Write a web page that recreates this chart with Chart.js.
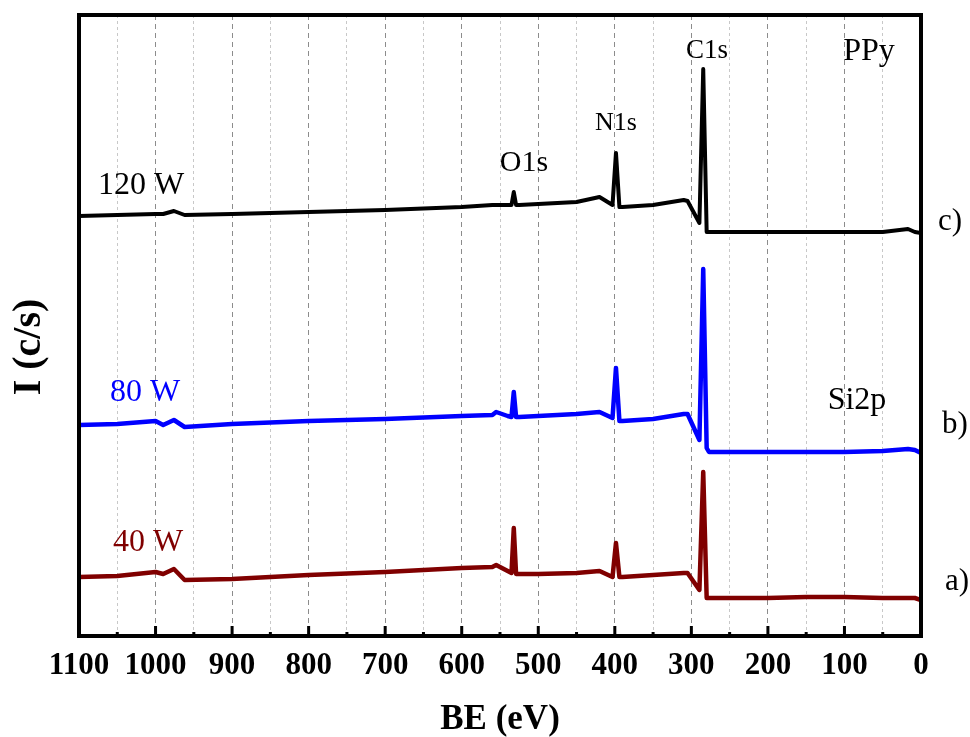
<!DOCTYPE html>
<html>
<head>
<meta charset="utf-8">
<title>XPS survey spectra - PPy</title>
<script src="https://cdn.jsdelivr.net/npm/chart.js@4.4.1/dist/chart.umd.min.js"></script>
<style>
  html, body { margin: 0; padding: 0; background: #fff; }
  canvas { display: block; }
</style>
</head>
<body>
<canvas id="xpsChart" width="970" height="737"></canvas>
<script>
// binding energy grid (eV) shared by the three spectra
const bindingEnergy = [1100, 1050, 1000, 990, 976, 962, 900, 800, 700, 600, 560, 555, 540, 535, 532, 529, 525, 500, 450, 420, 403, 398.5, 394, 390, 350, 310, 305, 289.5, 284.5, 280, 277, 250, 200, 150, 100, 50, 17, 8, 0];

// intensities, offset per spectrum (a.u.)
const counts40W = [5.9, 6.0, 6.4, 6.2, 6.7, 5.6, 5.7, 6.1, 6.4, 6.8, 6.9, 7.1, 6.5, 6.3, 10.8, 6.2, 6.2, 6.2, 6.3, 6.5, 5.9, 9.3, 5.9, 5.9, 6.1, 6.3, 6.3, 4.6, 16.4, 3.8, 3.8, 3.8, 3.8, 3.9, 3.9, 3.8, 3.8, 3.8, 3.6];
const counts80W = [21.1, 21.2, 21.5, 21.1, 21.6, 20.9, 21.2, 21.5, 21.7, 22.0, 22.1, 22.4, 22.0, 21.9, 24.4, 21.9, 21.9, 22.0, 22.2, 22.4, 21.8, 26.8, 21.5, 21.5, 21.7, 22.2, 22.2, 19.6, 36.7, 18.8, 18.4, 18.4, 18.4, 18.4, 18.4, 18.5, 18.7, 18.6, 18.3];
const counts120W = [42.0, 42.1, 42.2, 42.2, 42.5, 42.1, 42.2, 42.4, 42.6, 42.9, 43.1, 43.1, 43.1, 43.1, 44.4, 43.1, 43.1, 43.2, 43.4, 43.9, 43.1, 48.3, 42.9, 42.9, 43.1, 43.6, 43.5, 41.3, 56.7, 40.4, 40.4, 40.4, 40.4, 40.4, 40.4, 40.4, 40.7, 40.4, 40.3];

const seriesNames = ['40 W', '80 W', '120 W'];
const seriesColors = ['#800000', '#0000ff', '#000000'];

const xMin = 0, xMax = 1100, xStep = 50;
const yMin = 0, yMax = 62.1;

const serif = "'Liberation Serif', 'Times New Roman', serif";

// text drawn inside / beside the plot: [text, x, y, size, color, align]
const notes = [
  ['120 W', 98, 186, 32, '#000000', 'left'],
  ['80 W', 110, 393, 32, '#0000ff', 'left'],
  ['40 W', 113, 543, 32, '#800000', 'left'],
  ['O1s', 524, 163, 30, '#000000', 'center'],
  ['N1s', 616, 123, 26, '#000000', 'center'],
  ['C1s', 707, 51, 27, '#000000', 'center'],
  ['PPy', 869, 52, 32, '#000000', 'center'],
  ['Si2p', 857, 401, 32, '#000000', 'center'],
  ['c)', 950, 222, 31, '#000000', 'center'],
  ['b)', 955, 425, 31, '#000000', 'center'],
  ['a)', 957, 582, 31, '#000000', 'center']
];

function toPoints(ys) {
  return bindingEnergy.map((e, i) => ({ x: e, y: ys[i] }));
}

const allCounts = [counts40W, counts80W, counts120W];

const datasets = allCounts.map((ys, i) => ({
  label: seriesNames[i],
  data: toPoints(ys),
  borderColor: seriesColors[i],
  backgroundColor: seriesColors[i],
  borderWidth: i === 2 ? 4 : 4.5,
  pointRadius: 0,
  tension: 0,
  borderJoinStyle: 'round',
  borderCapStyle: 'round'
}));

// frame, inward ticks, y title and peak labels
const decorations = {
  id: 'decorations',
  afterDraw(chart) {
    const ctx = chart.ctx;
    const area = chart.chartArea;
    const xs = chart.scales.x;
    ctx.save();

    ctx.fillStyle = '#000';
    xs.ticks.forEach(t => {
      const px = xs.getPixelForValue(t.value);
      const len = t.value % 100 === 0 ? 10 : 4;
      ctx.fillRect(px - 1.5, area.bottom - len, 3, len);
    });

    ctx.strokeStyle = '#000';
    ctx.lineWidth = 4;
    ctx.lineJoin = 'miter';
    ctx.strokeRect(area.left, area.top, area.right - area.left, area.bottom - area.top);

    ctx.save();
    ctx.translate(30, 347);
    ctx.rotate(-Math.PI / 2);
    ctx.font = 'bold 40px ' + serif;
    ctx.textAlign = 'center';
    ctx.textBaseline = 'middle';
    ctx.fillText('I (c/s)', 0, 0);
    ctx.restore();

    ctx.textBaseline = 'middle';
    notes.forEach(([text, x, y, size, color, align]) => {
      ctx.font = size + 'px ' + serif;
      ctx.fillStyle = color;
      ctx.textAlign = align;
      ctx.fillText(text, x, y);
    });
    ctx.restore();
  }
};

new Chart(document.getElementById('xpsChart'), {
  type: 'line',
  data: { datasets },
  options: {
    responsive: false,
    animation: false,
    devicePixelRatio: 1,
    layout: { padding: { left: 0, right: 49, top: 15, bottom: 0 } },
    plugins: {
      legend: { display: false },
      tooltip: { enabled: false }
    },
    scales: {
      x: {
        type: 'linear',
        reverse: true,
        min: xMin,
        max: xMax,
        afterFit: s => { s.height = 101; },
        ticks: {
          stepSize: xStep,
          autoSkip: false,
          maxRotation: 0,
          padding: 11,
          color: '#000',
          font: { family: serif, size: 31, weight: 'bold' },
          callback: v => (v % 100 === 0 ? String(v) : '')
        },
        grid: {
          drawTicks: false,
          lineWidth: 1,
          color: c => (c.tick && c.tick.value % 100 === 0 ? '#8c8c8c' : '#c8c8c8')
        },
        border: {
          display: false,
          dash: c => (c.tick && c.tick.value % 100 === 0 ? [5, 4] : [3, 3])
        },
        title: {
          display: true,
          text: 'BE (eV)',
          color: '#000',
          padding: { top: 0, bottom: 0 },
          font: { family: serif, size: 35, weight: 'bold', lineHeight: 1 }
        }
      },
      y: {
        min: yMin,
        max: yMax,
        afterFit: s => { s.width = 79; },
        ticks: { display: false },
        grid: { display: false },
        border: { display: false }
      }
    }
  },
  plugins: [decorations]
});
</script>
</body>
</html>
